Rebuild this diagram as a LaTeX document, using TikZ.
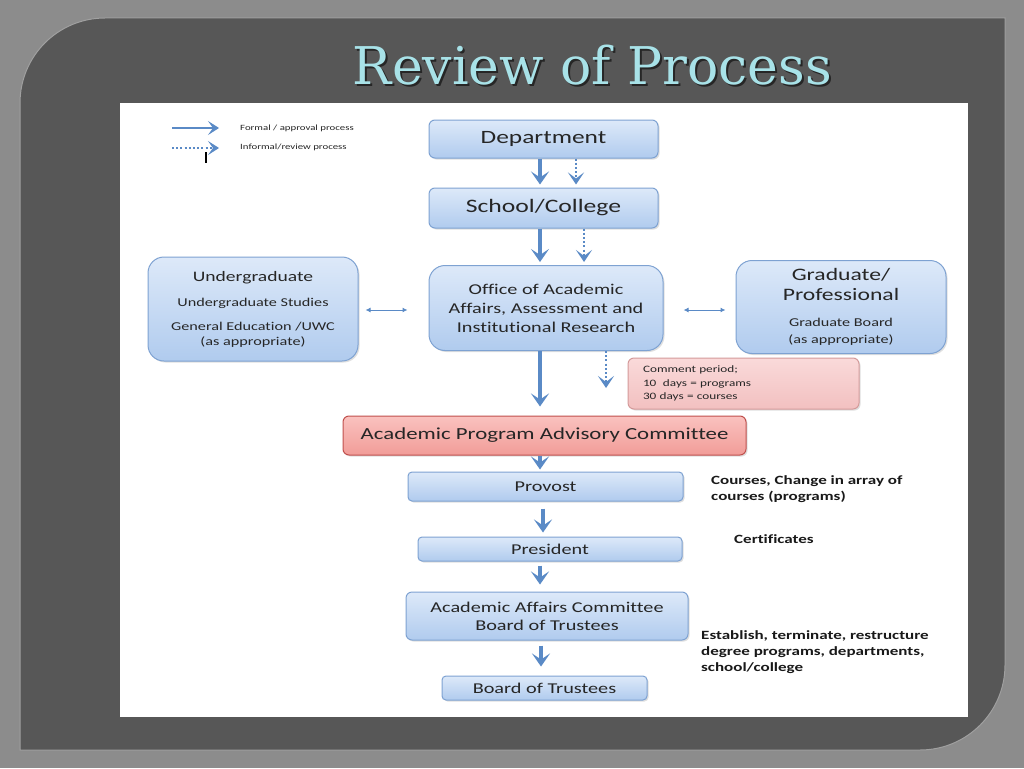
\documentclass[tikz,border=0pt]{standalone}
\usepackage{fontspec}
\setmainfont{Carlito}[FakeStretch=1.35, Ligatures=NoCommon]
\newfontfamily\titlefont{DejaVu Serif}
\usetikzlibrary{arrows.meta,shadows}
\definecolor{bgout}{HTML}{8C8C8C}
\definecolor{panel}{HTML}{575757}
\definecolor{panelline}{HTML}{A0A0A0}
\definecolor{titlecol}{HTML}{A8E2E8}
\definecolor{boxtop}{HTML}{DDE9F9}
\definecolor{boxbot}{HTML}{B0CBEE}
\definecolor{boxline}{HTML}{7EA2D2}
\definecolor{pinktop}{HTML}{FADADA}
\definecolor{pinkbot}{HTML}{F2C0C0}
\definecolor{pinkline}{HTML}{D49A9A}
\definecolor{redtop}{HTML}{FAC2BF}
\definecolor{redbot}{HTML}{F19C98}
\definecolor{redline}{HTML}{C0504D}
\definecolor{arrowcol}{HTML}{5A8AC6}
\definecolor{txt}{HTML}{262626}
\newcommand{\fsUg}{\fontsize{14.5}{16}\selectfont}
\newcommand{\fsGr}{\fontsize{17.5}{20}\selectfont}
\newcommand{\fsB}{\fontsize{12}{16}\selectfont}
\tikzset{
  box/.style={draw=boxline, line width=1pt, rounded corners=6pt, top color=boxtop, bottom color=boxbot,
     text=txt, align=center, inner sep=0pt, drop shadow={shadow xshift=1.5pt, shadow yshift=-1.5pt, opacity=0.25}},
  bigbox/.style={box, rounded corners=16pt},
  pinkbox/.style={box, draw=pinkline, top color=pinktop, bottom color=pinkbot},
  redbox/.style={box, draw=redline, top color=redtop, bottom color=redbot},
  formal/.style={draw=arrowcol, line width=3.5pt, -{Stealth[length=13pt,width=18pt,inset=6pt]}},
  informal/.style={draw=arrowcol, line width=2.5pt, dash pattern=on 2pt off 2.2pt, -{Stealth[length=12pt,width=16pt,inset=6pt,sep=0pt]}},
  both/.style={draw=arrowcol, line width=1pt, {Latex[length=5pt,width=5pt]}-{Latex[length=5pt,width=5pt]}},
  side/.style={font=\fontsize{12.6}{16}\selectfont\bfseries, text=black!90, align=left, anchor=north west, inner sep=0pt},
}
\begin{document}
\begin{tikzpicture}[x=1pt,y=-1pt]
\useasboundingbox (0,0) rectangle (1024,768);
\fill[bgout] (0,0) rectangle (1024,768);
% panel
\filldraw[fill=panel, draw=panelline, line width=1pt]
  (20,750) [sharp corners] -- (20,300) [rounded corners=85pt] -- (20,18) -- (500,18) [sharp corners]
  -- (1005,18) -- (1005,400) [rounded corners=85pt] -- (1005,750) -- (500,750) [sharp corners] -- cycle;
% title
\node[text=black!85, font=\titlefont\fontsize{52}{58}\selectfont, anchor=base] (titlesh) at (594.5,86.5) {Review of Process};
\node[text=titlecol, font=\titlefont\fontsize{52}{58}\selectfont, anchor=base] (title) at (592.5,84.5) {Review of Process};
% white area
\fill[white] (120,103) rectangle (968,717);

% legend
\coordinate (l1a) at (172,128); \coordinate (l1b) at (219,128);
\coordinate (l2a) at (172,148); \coordinate (l2b) at (219,148);
\draw[formal, line width=2.8pt, -{Stealth[length=11pt,width=14pt,inset=5pt]}] (l1a) -- (l1b);
\draw[informal, line width=2.8pt, -{Stealth[length=11pt,width=14pt,inset=5pt]}] (l2a) -- (l2b);
\node[anchor=west, inner sep=0pt, font=\fontsize{8}{9}\selectfont, text=txt] (leg1) at (240,128) {Formal / approval process};
\node[anchor=west, inner sep=0pt, font=\fontsize{8}{9}\selectfont, text=txt] (leg2) at (240,147) {Informal/review process};
\coordinate (ta) at (206,152); \coordinate (tb) at (206,163);
\draw[black, line width=1.5pt] (ta) -- (tb);

% nodes
\node[box, minimum width=229pt, minimum height=38pt, font=\fontsize{18.8}{20}\selectfont] (dept) at (543.5,139) {Department};
\node[box, minimum width=229pt, minimum height=40pt, font=\fontsize{19}{20}\selectfont] (school) at (543.5,208) {School/College};
\node[bigbox, minimum width=210pt, minimum height=104pt, font=\fsB] (ug) at (253,309)
  {\fsUg Undergraduate\\[9pt]
   \fsB Undergraduate Studies\\[8pt]
   \fsB General Education /UWC\\[-1pt]
   \fsB (as appropriate)};
\node[bigbox, minimum width=234pt, minimum height=85pt, font=\fontsize{15}{19}\selectfont] (oaa) at (546,308)
  {Office of Academic\\Affairs, Assessment and\\Institutional Research};
\node[bigbox, minimum width=210pt, minimum height=93pt, font=\fsGr] (grad) at (841,307)
  {\fsGr Graduate/\\\fsGr Professional\\[6pt]
   \fsB Graduate Board\\[-3pt]\fsB (as appropriate)};
\node[pinkbox, minimum width=231pt, minimum height=51pt, align=left, font=\fontsize{9.8}{13.5}\selectfont, text width=201pt] (comment) at (743.5,383.5)
  {Comment period;\\10\ \ days = programs\\30 days = courses};
\node[redbox, minimum width=403pt, minimum height=39pt, font=\fontsize{16.9}{18}\selectfont] (apac) at (544.5,435.5) {Academic Program Advisory Committee};
\node[box, rounded corners=4pt, minimum width=275pt, minimum height=29pt, font=\fontsize{15}{16}\selectfont] (provost) at (545.5,486.5) {Provost};
\node[box, rounded corners=4pt, minimum width=264pt, minimum height=24pt, font=\fontsize{15}{16}\selectfont] (pres) at (550,549) {President};
\node[box, minimum width=282pt, minimum height=48pt, font=\fontsize{15}{18}\selectfont] (aac) at (547,616) {Academic Affairs Committee\\Board of Trustees};
\node[box, rounded corners=4pt, minimum width=205pt, minimum height=24pt, font=\fontsize{15}{16}\selectfont] (bot) at (544.5,688) {Board of Trustees};

% side notes
\node[side] (n1) at (711,475) {Courses, Change in array of\\courses (programs)};
\node[side] (n2) at (734,534) {Certificates};
\node[side] (n3) at (701,630) {Establish, terminate, restructure\\degree programs, departments,\\school/college};

% connectors
\draw[formal] (dept.south -| 540,0) -- ([yshift=3pt]school.north -| 540,0);
\draw[informal] (dept.south -| 576,0) -- ([yshift=3pt]school.north -| 576,0);
\draw[formal] (school.south -| 540,0) -- ([yshift=3pt]oaa.north -| 540,0);
\draw[informal] (school.south -| 584,0) -- ([yshift=3pt]oaa.north -| 584,0);
\draw[formal] (oaa.south -| 540,0) -- ([yshift=9pt]apac.north -| 540,0);
\coordinate (dotend) at (606,388);
\draw[informal] (oaa.south -| 606,0) -- (dotend);
\draw[formal] (apac.south -| 540,0) -- ([yshift=2pt]provost.north -| 540,0);
\draw[formal] ([yshift=-7pt]provost.south -| 543,0) -- ([yshift=4pt]pres.north -| 543,0);
\draw[formal] ([yshift=-4pt]pres.south -| 540,0) -- ([yshift=7pt]aac.north -| 540,0);
\draw[formal] ([yshift=-5pt]aac.south -| 541,0) -- ([yshift=9pt]bot.north -| 541,0);
\draw[both] ([xshift=7pt]ug.east |- 0,310) -- ([xshift=-21pt]oaa.west |- 0,310);
\draw[both] ([xshift=20pt]oaa.east |- 0,310) -- ([xshift=-10pt]grad.west |- 0,310);
\end{tikzpicture}
\end{document}
